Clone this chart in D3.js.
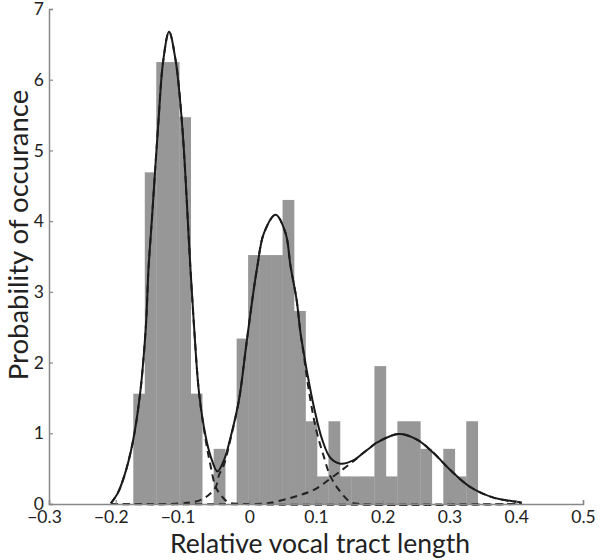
<!DOCTYPE html>
<html>
<head>
<meta charset="utf-8">
<script src="https://cdn.jsdelivr.net/npm/d3@7"></script>
<style>
  body { margin: 0; background: #fff; }
  text { font-family: Lato, "Open Sans", sans-serif; fill: #222; }
</style>
</head>
<body>
<div id="chart"></div>
<script>
// histogram bins (edges) and heights
var binEdges = [-0.1737, -0.1565, -0.1393, -0.1221, -0.1049, -0.0877, -0.0705, -0.0533,
  -0.0361, -0.0189, -0.0017, 0.0155, 0.0327, 0.0499, 0.0671, 0.0843, 0.1015, 0.1187,
  0.1359, 0.1531, 0.1703, 0.1875, 0.2047, 0.2219, 0.2391, 0.2563, 0.2735, 0.2907,
  0.3079, 0.3251, 0.3423];
var binHeights = [1.56, 4.69, 6.25, 6.25, 5.47, 1.56, 0, 0.78, 0, 2.34, 3.52, 3.52, 3.52,
  4.30, 2.73, 1.17, 0.39, 1.17, 0.39, 0.39, 0.39, 1.95, 0.39, 1.17, 1.17, 0.78, 0, 0.78,
  0.39, 1.17];

// fitted mixture (solid)
var mixture = [[-0.2073, 0.01], [-0.1972, 0.15], [-0.1874, 0.39], [-0.1748, 0.86],
  [-0.1634, 1.57], [-0.1549, 2.51], [-0.1509, 3.33], [-0.1459, 4.02], [-0.141, 4.72],
  [-0.1359, 5.43], [-0.129, 6.26], [-0.1201, 6.68], [-0.1101, 6.26], [-0.1011, 5.43],
  [-0.0961, 4.72], [-0.0921, 4.02], [-0.0881, 3.33], [-0.0827, 2.51], [-0.0752, 1.57],
  [-0.0652, 0.95], [-0.0577, 0.67], [-0.0477, 0.46], [-0.0378, 0.62], [-0.0278, 0.95],
  [-0.0154, 1.47], [-0.0054, 2.18], [0.0046, 2.89], [0.0121, 3.36], [0.022, 3.83],
  [0.0395, 4.09], [0.0544, 3.83], [0.0619, 3.36], [0.0709, 2.89], [0.0769, 2.41],
  [0.0818, 2.13], [0.0869, 1.85], [0.0967, 1.38], [0.1093, 0.91], [0.1217, 0.65],
  [0.1367, 0.57], [0.1566, 0.62], [0.1666, 0.69], [0.1815, 0.8], [0.1915, 0.87],
  [0.2239, 0.99], [0.2514, 0.91], [0.2762, 0.72], [0.3012, 0.48], [0.3311, 0.24],
  [0.3659, 0.09], [0.4009, 0.03], [0.4084, 0.02]];

// single components (dashed)
var comp1 = [[-0.2073, 0.01], [-0.1972, 0.15], [-0.1874, 0.39], [-0.1748, 0.86],
  [-0.1634, 1.57], [-0.1549, 2.51], [-0.1509, 3.33], [-0.1459, 4.02], [-0.141, 4.72],
  [-0.1359, 5.43], [-0.129, 6.26], [-0.1201, 6.68], [-0.1101, 6.26], [-0.1011, 5.43],
  [-0.0961, 4.72], [-0.0921, 4.02], [-0.0881, 3.33], [-0.0827, 2.51], [-0.0752, 1.57],
  [-0.0652, 0.9], [-0.0577, 0.53], [-0.0502, 0.24], [-0.0403, 0.1], [-0.0304, 0.02],
  [-0.01, 0], [0.4084, 0]];
var comp2 = [[-0.2073, 0], [-0.12, 0], [-0.0827, 0.03], [-0.0701, 0.07], [-0.0603, 0.13],
  [-0.0502, 0.24], [-0.0453, 0.41], [-0.0378, 0.56], [-0.0278, 0.93], [-0.0154, 1.47],
  [-0.0054, 2.18], [0.0046, 2.89], [0.0121, 3.36], [0.022, 3.83], [0.0395, 4.09],
  [0.0544, 3.83], [0.0619, 3.36], [0.0709, 2.89], [0.0769, 2.41], [0.0818, 2.1],
  [0.0869, 1.75], [0.0993, 1.09], [0.1117, 0.67], [0.1217, 0.39], [0.1367, 0.17],
  [0.1516, 0.03], [0.1666, 0], [0.4084, 0]];
var comp3 = [[-0.2073, 0], [0.0, 0], [0.0271, 0.01], [0.0668, 0.1], [0.0967, 0.2],
  [0.1217, 0.36], [0.1416, 0.5], [0.1566, 0.61], [0.1666, 0.69], [0.1815, 0.8],
  [0.1915, 0.87], [0.2239, 0.99], [0.2514, 0.91], [0.2762, 0.72], [0.3012, 0.48],
  [0.3311, 0.24], [0.3659, 0.09], [0.4009, 0.03], [0.4084, 0.02]];

var xTicks = [-0.3, -0.2, -0.1, 0, 0.1, 0.2, 0.3, 0.4, 0.5];
var yTicks = [0, 1, 2, 3, 4, 5, 6, 7];

var width = 600, height = 560;
var margin = {left: 49, right: 17, top: 9, bottom: 56};

var svg = d3.select("#chart").append("svg")
    .attr("width", width)
    .attr("height", height);

var x = d3.scaleLinear().domain([-0.3, 0.5]).range([margin.left, width - margin.right]);
var y = d3.scaleLinear().domain([0, 7]).range([height - margin.bottom, margin.top]);

// bars
svg.append("g").selectAll("rect")
    .data(binHeights)
    .enter()
    .append("rect")
    .attr("x", function(d, i) { return x(binEdges[i]); })
    .attr("width", function(d, i) { return x(binEdges[i + 1]) - x(binEdges[i]) + 0.3; })
    .attr("y", function(d) { return y(d); })
    .attr("height", function(d) { return y(0) - y(d); })
    .attr("fill", "#979797");

var line = d3.line()
    .x(function(d) { return x(d[0]); })
    .y(function(d) { return y(d[1]); })
    .curve(d3.curveCatmullRom.alpha(0.5));

[comp1, comp2, comp3].forEach(function(c) {
  svg.append("path")
      .attr("d", line(c))
      .attr("fill", "none")
      .attr("stroke", "#222")
      .attr("stroke-width", 2)
      .attr("stroke-dasharray", "7,5");
});

svg.append("path")
    .attr("d", line(mixture))
    .attr("fill", "none")
    .attr("stroke", "#1a1a1a")
    .attr("stroke-width", 2);

// axes
var xAxis = d3.axisBottom(x).tickValues(xTicks).tickSize(-4).tickPadding(7)
    .tickFormat(function(d) { return d === 0 ? "0" : d3.format(".1f")(d).replace("-", "\u2212"); });
var yAxis = d3.axisLeft(y).tickValues(yTicks).tickSize(-4).tickPadding(5)
    .tickFormat(d3.format("d"));

var gx = svg.append("g")
    .attr("transform", "translate(0," + y(0) + ")")
    .call(xAxis);
var gy = svg.append("g")
    .attr("transform", "translate(" + x(-0.3) + ",0)")
    .call(yAxis);

[gx, gy].forEach(function(g) {
  g.select(".domain").attr("stroke", "#888").attr("stroke-width", 1.5);
  g.selectAll(".tick line").attr("stroke", "#888").attr("stroke-width", 1.2);
  g.selectAll(".tick text").attr("font-size", 17.5).attr("fill", "#222")
      .style("font-family", "Lato, 'Open Sans', sans-serif");
});
gx.selectAll(".tick text")
    .attr("dx", function(d) { return d < 0 ? -5 : 0; });

svg.append("text")
    .attr("x", 320)
    .attr("y", 553)
    .attr("text-anchor", "middle")
    .attr("font-size", 26.5)
    .text("Relative vocal tract length");

svg.append("text")
    .attr("transform", "translate(28,235) rotate(-90)")
    .attr("text-anchor", "middle")
    .attr("font-size", 27.5)
    .text("Probability of occurance");
</script>
</body>
</html>
